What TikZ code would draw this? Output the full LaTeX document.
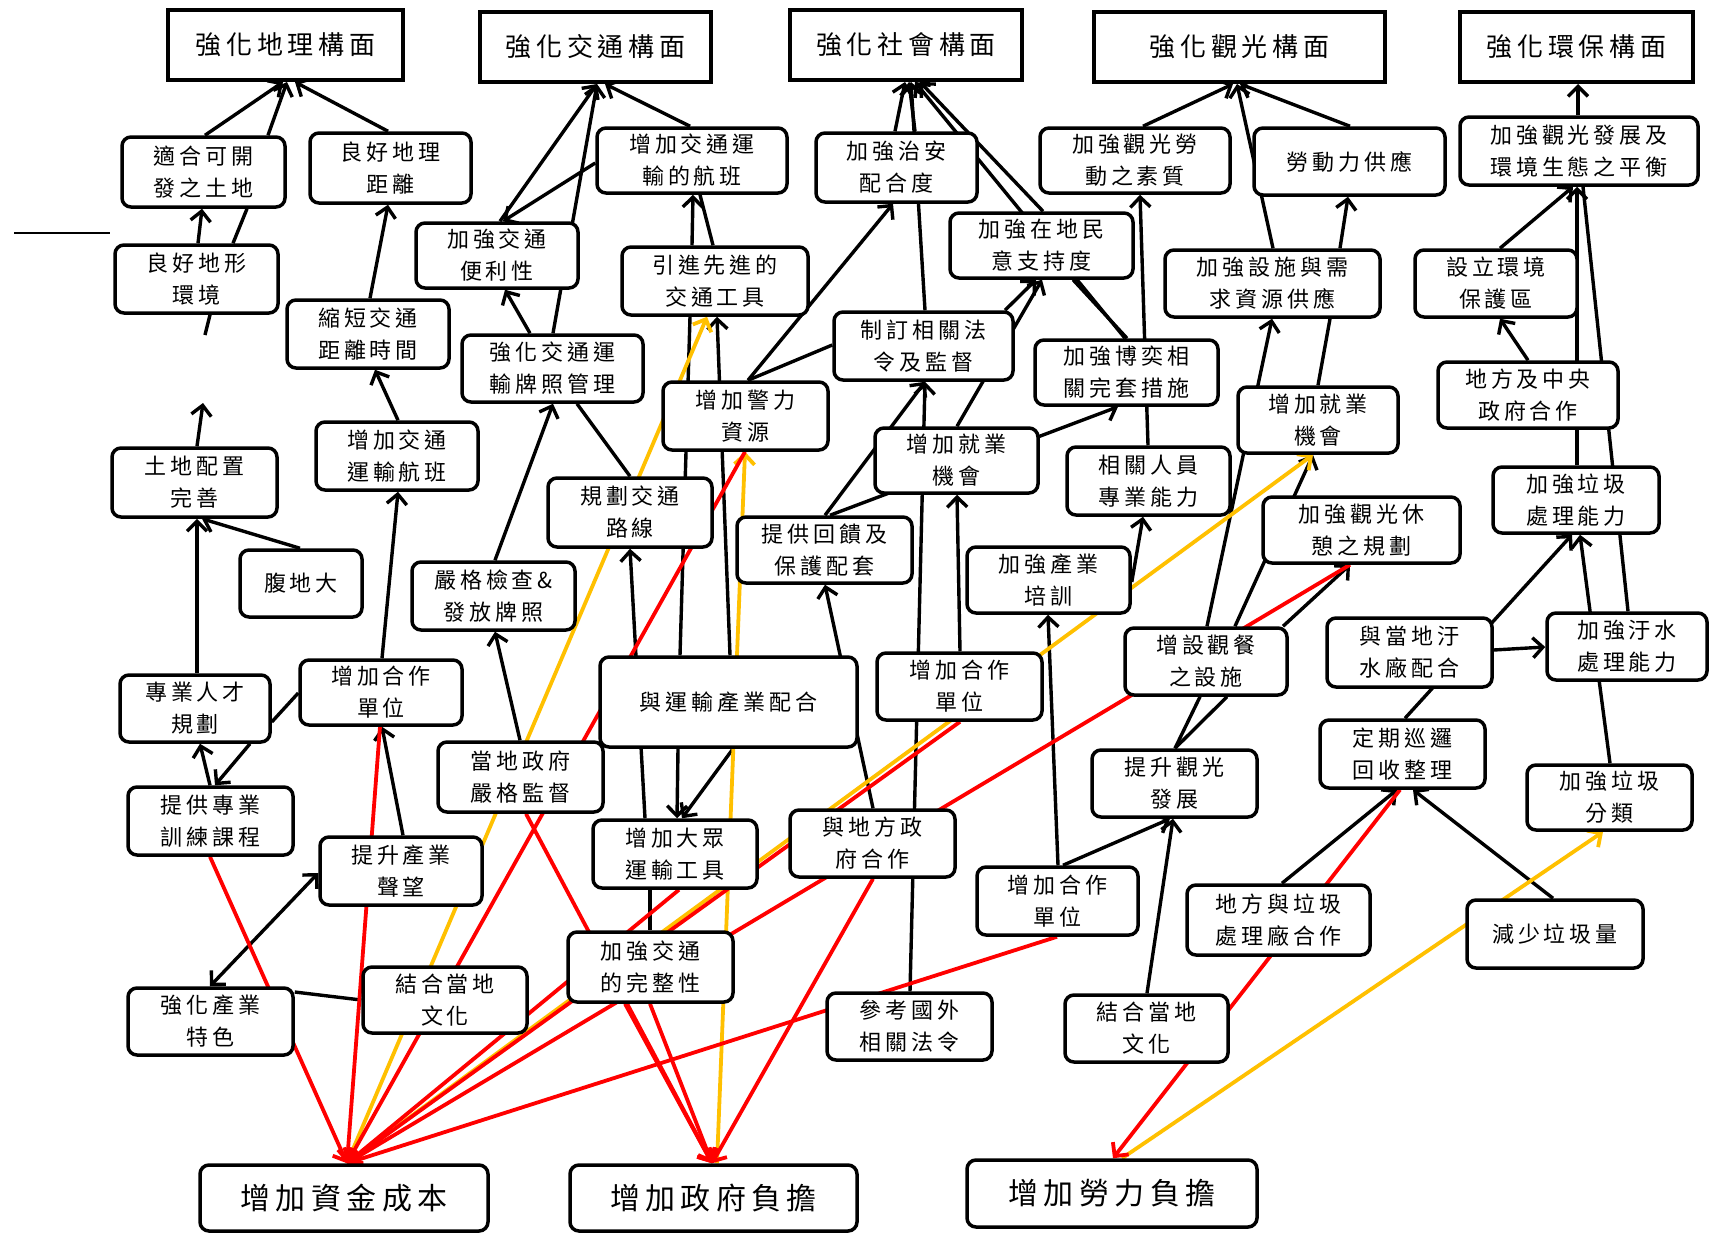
\documentclass[tikz,border=0pt]{standalone}
\usepackage{fontspec}
\newfontfamily\cjk[LetterSpace=18]{Noto Sans CJK TC}
\usetikzlibrary{arrows.meta}
\pgfdeclarelayer{bg}
\pgfdeclarelayer{edges}
\pgfsetlayers{bg,edges,main}
\definecolor{myyel}{RGB}{255,192,0}
\definecolor{myred}{RGB}{255,0,0}
\newcommand\mkbox[7][box]{\node[#1,minimum width={#5-#3},minimum height={#6-#4}] (#2) at ({(#3+#5)/2},{(#4+#6)/2}) {#7};}
\begin{document}
\begin{tikzpicture}[x=1pt,y=-1pt,
  box/.style={draw,line width=3.5pt,rounded corners=9pt,fill=white,inner sep=0pt,align=center,font=\cjk\fontsize{22}{32}\selectfont},
  top/.style={box,rounded corners=0pt,line width=4pt,font=\cjk\fontsize{26}{30}\selectfont},
  big/.style={box,font=\cjk\fontsize{30}{34}\selectfont},
  ln/.style={line width=3.4pt},
  arr/.style={line width=3.4pt,-{Straight Barb[length=10pt,width=20pt]}},
  dbl/.style={line width=3.4pt,{Straight Barb[length=10pt,width=20pt]}-{Straight Barb[length=10pt,width=20pt]}},
  rd/.style={arr,myred,line width=3.8pt},
  yl/.style={arr,myyel,line width=3.8pt}]
\begin{pgfonlayer}{bg}
\fill[white] (0,0) rectangle (1710,1234);
\end{pgfonlayer}
\useasboundingbox (0,0) rectangle (1710,1234);
% top row
\mkbox[top]{T1}{168}{10}{403}{80}{強化地理構面}
\mkbox[top]{T2}{480}{12}{711}{82}{強化交通構面}
\mkbox[top]{T3}{790}{10}{1022}{80}{強化社會構面}
\mkbox[top]{T4}{1094}{12}{1385}{82}{強化觀光構面}
\mkbox[top]{T5}{1460}{12}{1693}{82}{強化環保構面}
% bottom row
\mkbox[big]{B1}{200}{1165}{488}{1231}{增加資金成本}
\mkbox[big]{B2}{570}{1165}{857}{1231}{增加政府負擔}
\mkbox[big]{B3}{967}{1160}{1257}{1227}{增加勞力負擔}
% geography
\mkbox{g1}{122}{137}{285}{207}{適合可開\\發之土地}
\mkbox{g2}{310}{133}{471}{203}{良好地理\\距離}
\mkbox{g3}{115}{245}{278}{313}{良好地形\\環境}
\mkbox{g4}{287}{300}{449}{368}{縮短交通\\距離時間}
\mkbox{g5}{112}{448}{277}{517}{土地配置\\完善}
\mkbox{g6}{240}{550}{362}{617}{腹地大}
\mkbox{g7}{316}{422}{478}{490}{增加交通\\運輸航班}
\mkbox{g8}{120}{675}{270}{742}{專業人才\\規劃}
\mkbox{g9}{300}{660}{462}{725}{增加合作\\單位}
\mkbox{g10}{128}{787}{293}{855}{提供專業\\訓練課程}
\mkbox{g11}{320}{837}{482}{905}{提升產業\\聲望}
\mkbox{g12}{128}{988}{293}{1055}{強化產業\\特色}
\mkbox{g13}{363}{967}{527}{1033}{結合當地\\文化}
% traffic
\mkbox{t1}{597}{128}{787}{193}{增加交通運\\輸的航班}
\mkbox{t2}{416}{223}{578}{288}{加強交通\\便利性}
\mkbox{t3}{622}{247}{808}{315}{引進先進的\\交通工具}
\mkbox{t4}{462}{335}{643}{402}{強化交通運\\輸牌照管理}
\mkbox{t5}{663}{382}{828}{450}{增加警力\\資源}
\mkbox{t6}{548}{478}{712}{547}{規劃交通\\路線}
\mkbox{t7}{412}{562}{575}{630}{嚴格檢查\&\\發放牌照}
\mkbox{t8}{737}{517}{912}{583}{提供回饋及\\保護配套}
\mkbox{t9}{600}{657}{857}{747}{與運輸產業配合}
\mkbox{t10}{438}{742}{603}{812}{當地政府\\嚴格監督}
\mkbox{t11}{593}{820}{757}{888}{增加大眾\\運輸工具}
\mkbox{t12}{568}{932}{733}{1002}{加強交通\\的完整性}
\mkbox{t13}{790}{810}{955}{877}{與地方政\\府合作}
\mkbox{t14}{827}{993}{992}{1060}{參考國外\\相關法令}
% society
\mkbox{s1}{816}{133}{977}{202}{加強治安\\配合度}
\mkbox{s2}{950}{213}{1133}{278}{加強在地民\\意支持度}
\mkbox{s3}{834}{312}{1013}{380}{制訂相關法\\令及監督}
\mkbox{s4}{1035}{340}{1218}{405}{加強博奕相\\關完套措施}
\mkbox{s5}{875}{428}{1038}{493}{增加就業\\機會}
\mkbox{s6}{1067}{447}{1230}{515}{相關人員\\專業能力}
\mkbox{s7}{967}{547}{1130}{613}{加強產業\\培訓}
\mkbox{s8}{877}{653}{1042}{720}{增加合作\\單位}
\mkbox{s9}{1125}{628}{1287}{695}{增設觀餐\\之設施}
\mkbox{s10}{1092}{750}{1257}{817}{提升觀光\\發展}
\mkbox{s11}{977}{867}{1138}{935}{增加合作\\單位}
\mkbox{s12}{1065}{995}{1228}{1062}{結合當地\\文化}
\mkbox{s13}{1187}{885}{1370}{955}{地方與垃圾\\處理廠合作}
% tourism
\mkbox{v1}{1040}{128}{1230}{193}{加強觀光勞\\動之素質}
\mkbox{v2}{1254}{128}{1445}{195}{勞動力供應}
\mkbox{v3}{1165}{250}{1380}{317}{加強設施與需\\求資源供應}
\mkbox{v4}{1238}{387}{1398}{453}{增加就業\\機會}
\mkbox{v5}{1263}{497}{1460}{563}{加強觀光休\\憩之規劃}
% environment
\mkbox{e1}{1460}{117}{1698}{185}{加強觀光發展及\\環境生態之平衡}
\mkbox{e2}{1415}{250}{1577}{317}{設立環境\\保護區}
\mkbox{e3}{1438}{362}{1618}{428}{地方及中央\\政府合作}
\mkbox{e4}{1493}{467}{1659}{533}{加強垃圾\\處理能力}
\mkbox{e5}{1327}{618}{1492}{687}{與當地汙\\水廠配合}
\mkbox{e6}{1547}{613}{1707}{680}{加強汙水\\處理能力}
\mkbox{e7}{1320}{720}{1485}{788}{定期巡邏\\回收整理}
\mkbox{e8}{1527}{765}{1692}{830}{加強垃圾\\分類}
\mkbox{e9}{1467}{900}{1643}{968}{減少垃圾量}
\coordinate (hlA) at (14,233);
\coordinate (hlB) at (110,233);
\coordinate (stubA) at (205,335);
\coordinate (stubB) at (203,403);
\begin{pgfonlayer}{edges}
\draw[line width=2pt] (hlA) -- (hlB);
% geography
\draw[arr] (g1.north -| 205,0) -- (T1.south -| 283,0);
\draw[arr] (g1.north -| 268,0) -- (T1.south -| 287,0);
\draw[arr] (g2.north -| 388,0) -- (T1.south -| 295,0);
\draw[arr] (g3.north -| 198,0) -- (g1.south -| 202,0);
\draw[ln] (g3.north -| 233,0) -- (g1.south -| 247,0);
\draw[ln] (g3.south -| 210,0) -- (stubA);
\draw[arr] (g5.north -| 197,0) -- (stubB);
\draw[arr] (g6.north -| 300,0) -- (g5.south -| 202,0);
\draw[arr] (g8.north -| 197,0) -- (g5.south -| 197,0);
\draw[arr] (g4.north -| 370,0) -- (g2.south -| 388,0);
\draw[arr] (g7.north -| 398,0) -- (g4.south -| 375,0);
\draw[arr] (g9.north -| 382,0) -- (g7.south -| 398,0);
\draw[ln] (g9.west |- 0,693) -- (g8.east |- 0,722);
\draw[arr] (g10.north -| 210,0) -- (g8.south -| 200,0);
\draw[arr] (g8.south -| 250,0) -- (g10.north -| 215,0);
\draw[arr] (g11.north -| 403,0) -- (g9.south -| 382,0);
\draw[dbl] (g12.north -| 210,0) -- (g11.west |- 0,873);
\draw[ln] (g12.east |- 0,992) -- (g13.west |- 0,1000);
% traffic
\draw[arr] (t2.north -| 500,0) -- (T2.south -| 597,0);
\draw[arr] (t4.north -| 553,0) -- (T2.south -| 597,0);
\draw[arr] (t1.north -| 690,0) -- (T2.south -| 605,0);
\draw[arr] (t1.west |- 0,163) -- (t2.north -| 503,0);
\draw[arr] (t3.north -| 692,0) -- (t1.south -| 693,0);
\draw[ln] (t3.north -| 713,0) -- (t1.south -| 700,0);
\draw[ln] (t9.north -| 680,0) -- (t3.south -| 690,0);
\draw[arr] (t9.north -| 730,0) -- (t3.south -| 717,0);
\draw[arr] (t5.north -| 748,0) -- (s1.south -| 893,0);
\draw[ln] (t5.north -| 748,0) -- (s3.west |- 0,345);
\draw[arr] (t4.north -| 530,0) -- (t2.south -| 505,0);
\draw[ln] (t4.south -| 577,0) -- (t6.north -| 630,0);
\draw[arr] (t7.north -| 495,0) -- (t4.south -| 553,0);
\draw[arr] (t10.north -| 520,0) -- (t7.south -| 495,0);
\draw[arr] (t11.north -| 645,0) -- (t6.south -| 630,0);
\draw[arr] (t9.south -| 678,0) -- (t11.north -| 677,0);
\draw[arr] (t9.south -| 733,0) -- (t11.north -| 682,0);
\draw[ln] (t11.south -| 650,0) -- (t12.north -| 650,0);
\draw[arr] (t13.north -| 873,0) -- (t8.south -| 825,0);
% society
\draw[arr] (s1.north -| 895,0) -- (T3.south -| 905,0);
\draw[arr] (s1.north -| 915,0) -- (T3.south -| 909,0);
\draw[arr] (s3.north -| 925,0) -- (T3.south -| 911,0);
\draw[arr] (s2.north -| 1043,0) -- (T3.south -| 920,0);
\draw[arr] (s4.north -| 1125,0) -- (T3.south -| 915,0);
\draw[arr] (s3.north -| 1005,0) -- (s2.south -| 1036,0);
\draw[arr] (s5.north -| 957,0) -- (s2.south -| 1042,0);
\draw[arr] (t14.north -| 910,0) -- (s3.south -| 925,0);
\draw[arr] (t8.north -| 825,0) -- (s3.south -| 925,0);
\draw[arr] (t8.north -| 830,0) -- (s4.south -| 1118,0);
\draw[ln] (s2.south -| 1073,0) -- (s4.north -| 1127,0);
\draw[arr] (s6.north -| 1148,0) -- (v1.south -| 1140,0);
\draw[arr] (s7.east |- 0,582) -- (s6.south -| 1143,0);
\draw[arr] (s11.north -| 1058,0) -- (s7.south -| 1048,0);
\draw[arr] (s11.north -| 1063,0) -- (s10.south -| 1170,0);
\draw[arr] (s12.north -| 1147,0) -- (s10.south -| 1173,0);
\draw[arr] (s8.north -| 960,0) -- (s5.south -| 957,0);
% tourism
\draw[arr] (v1.north -| 1143,0) -- (T4.south -| 1233,0);
\draw[arr] (v2.north -| 1350,0) -- (T4.south -| 1240,0);
\draw[arr] (v3.north -| 1273,0) -- (T4.south -| 1237,0);
\draw[arr] (v3.north -| 1340,0) -- (v2.south -| 1348,0);
\draw[arr] (s9.north -| 1207,0) -- (v3.south -| 1272,0);
\draw[ln] (v4.north -| 1318,0) -- (v3.south -| 1330,0);
\draw[arr] (s9.north -| 1235,0) -- (v4.south -| 1313,0);
\draw[arr] (s9.north -| 1283,0) -- (v5.south -| 1350,0);
\draw[ln] (s10.north -| 1175,0) -- (s9.south -| 1200,0);
\draw[ln] (s10.north -| 1175,0) -- (s9.south -| 1227,0);
% environment
\draw[arr] (e1.north -| 1578,0) -- (T5.south -| 1578,0);
\draw[arr] (e2.north -| 1500,0) -- (e1.south -| 1573,0);
\draw[arr] (e4.north -| 1577,0) -- (e1.south -| 1577,0);
\draw[ln] (e6.north -| 1628,0) -- (e1.south -| 1583,0);
\draw[arr] (e3.north -| 1528,0) -- (e2.south -| 1500,0);
\draw[arr] (e8.north -| 1610,0) -- (e4.south -| 1580,0);
\draw[arr] (e7.north -| 1405,0) -- (e4.south -| 1572,0);
\draw[arr] (e5.east |- 0,650) -- (e6.west |- 0,647);
\draw[arr] (s13.north -| 1282,0) -- (e7.south -| 1397,0);
\draw[arr] (e9.north -| 1553,0) -- (e7.south -| 1413,0);
% yellow
\draw[yl] (B1.north -| 347,0) -- (t3.south -| 707,0);
\draw[yl] (B2.north -| 717,0) -- (t5.south -| 745,0);
\draw[yl] (B1.north -| 347,0) -- (v4.south -| 1313,0);
\draw[yl] (B3.north -| 1122,0) -- (e8.south -| 1603,0);
% red
\draw[rd] (g10.south -| 210,0) -- (B1.north -| 347,0);
\draw[rd] (g9.south -| 380,0) -- (B1.north -| 347,0);
\draw[rd] (t5.south -| 745,0) -- (B1.north -| 347,0);
\draw[rd] (t11.south -| 679,0) -- (B1.north -| 347,0);
\draw[rd] (s8.south -| 960,0) -- (B1.north -| 347,0);
\draw[rd] (v5.south -| 1350,0) -- (B1.north -| 347,0);
\draw[rd] (s11.south -| 1057,0) -- (B1.north -| 347,0);
\draw[rd] (t10.south -| 526,0) -- (B2.north -| 712,0);
\draw[rd] (t12.south -| 625,0) -- (B2.north -| 712,0);
\draw[rd] (t12.south -| 650,0) -- (B2.north -| 712,0);
\draw[rd] (t13.south -| 873,0) -- (B2.north -| 712,0);
\draw[rd] (e7.south -| 1400,0) -- (B3.north -| 1113,0);
\end{pgfonlayer}
\end{tikzpicture}
\end{document}
